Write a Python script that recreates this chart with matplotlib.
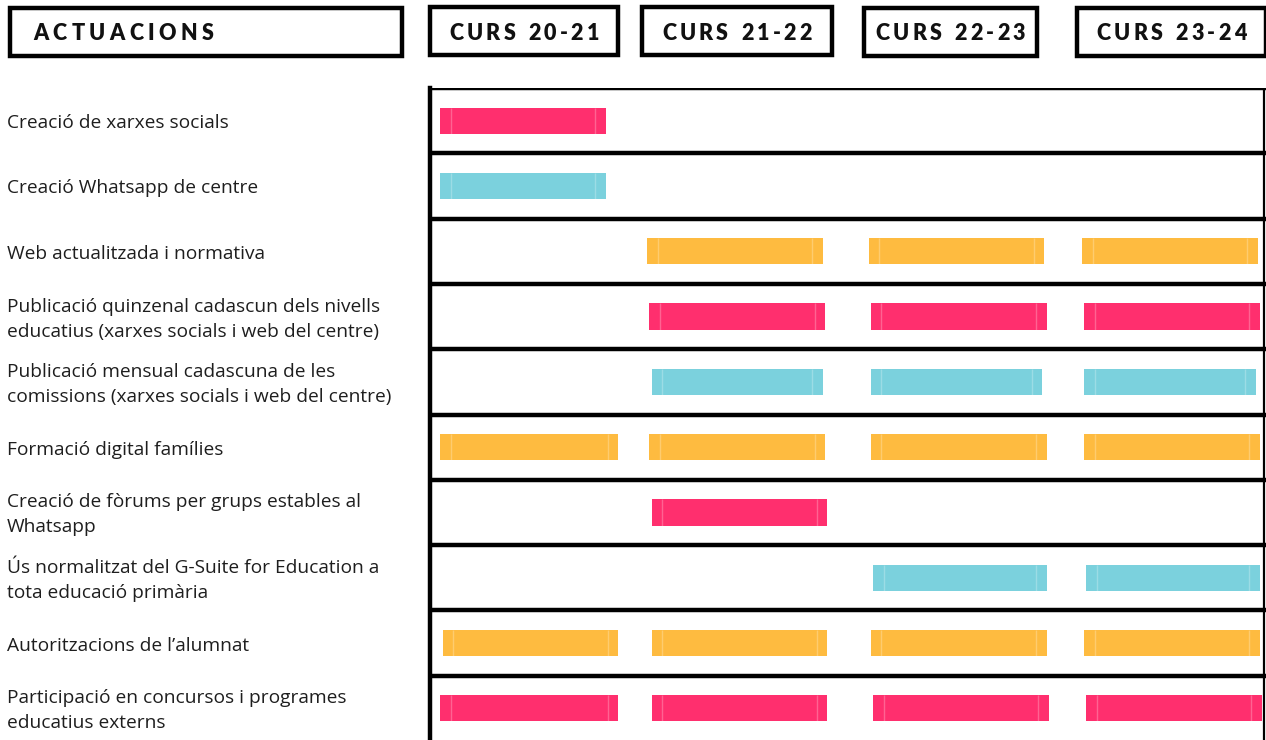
import matplotlib
matplotlib.use("Agg")
import matplotlib.pyplot as plt
from matplotlib.patches import Rectangle

# dades
cursos = ["CURS 20-21", "CURS 21-22", "CURS 22-23", "CURS 23-24"]
actuacions = [
    "Creació de xarxes socials",
    "Creació Whatsapp de centre",
    "Web actualitzada i normativa",
    "Publicació quinzenal cadascun dels nivells\neducatius (xarxes socials i web del centre)",
    "Publicació mensual cadascuna de les\ncomissions (xarxes socials i web del centre)",
    "Formació digital famílies",
    "Creació de fòrums per grups estables al\nWhatsapp",
    "Ús normalitzat del G-Suite for Education a\ntota educació primària",
    "Autoritzacions de l’alumnat",
    "Participació en concursos i programes\neducatius externs",
]
# inici / final de cada barra, en unitats de curs (0 = inici del curs 20-21)
inicis = [
    [0.05],
    [0.05],
    [1.04, 2.10, 3.12],
    [1.05, 2.11, 3.13],
    [1.06, 2.11, 3.13],
    [0.05, 1.05, 2.11, 3.13],
    [1.06],
    [2.12, 3.14],
    [0.06, 1.06, 2.11, 3.13],
    [0.05, 1.06, 2.12, 3.14],
]
finals = [
    [0.84],
    [0.84],
    [1.88, 2.94, 3.96],
    [1.89, 2.95, 3.97],
    [1.88, 2.93, 3.95],
    [0.90, 1.89, 2.95, 3.97],
    [1.90],
    [2.95, 3.97],
    [0.90, 1.90, 2.95, 3.97],
    [0.90, 1.90, 2.96, 3.98],
]
tipus = ["rosa", "blau", "groc", "rosa", "blau", "groc", "rosa", "blau", "groc", "rosa"]

colors = {"rosa": "#ff2f6e", "blau": "#7bd1dd", "groc": "#febb40"}

W, H = 1266, 740
fig = plt.figure(figsize=(W / 100, H / 100), dpi=100)
fig.patch.set_facecolor("white")
renderer = fig.canvas.get_renderer()

# capa de fons en pixels per capçaleres i etiquetes
bg = fig.add_axes([0, 0, 1, 1])
bg.set_xlim(0, W)
bg.set_ylim(H, 0)
bg.axis("off")

head_font = dict(family=["Lato", "DejaVu Sans"], weight="heavy", fontsize=15.5, color="#111111")


def tracked_text(x, y, s, align="left", tracking=3.2):
    # text amb espaiat entre lletres, lletra a lletra
    widths = []
    for ch in s:
        t = bg.text(0, 0, ch if ch != " " else "n", **head_font)
        bb = t.get_window_extent(renderer)
        widths.append(bb.width if ch != " " else bb.width * 0.55)
        t.remove()
    total = sum(widths) + tracking * (len(s) - 1)
    cx = x - total / 2 if align == "center" else x
    for ch, w in zip(s, widths):
        if ch != " ":
            bg.text(cx, y, ch, ha="left", va="center", **head_font)
        cx += w + tracking


boxes = [(10, 8, 392, 48), (430, 7, 188, 48), (642, 7, 190, 48), (864, 8, 173, 48), (1077, 8, 189, 48)]
titols = ["ACTUACIONS"] + cursos
for (x, y, w, h), t in zip(boxes, titols):
    bg.add_patch(Rectangle((x, y), w, h, fill=False, lw=3.2, ec="black"))
    if t == "ACTUACIONS":
        tracked_text(x + 23, y + h / 2 + 2, t, tracking=4.4)
    else:
        tracked_text(x + w / 2, y + h / 2 + 2, t, align="center")

# taula
top, row_h = 88, 65.3
n = len(actuacions)
ax = fig.add_axes([430 / W, 1 - (top + n * row_h) / H, (W - 430) / W, n * row_h / H])
ax.set_xlim(0, 4)
ax.set_ylim(n, 0)
ax.axis("off")

for i in range(n):
    ax.axhline(i, color="black", lw=3.2, zorder=3)
ax.axvline(0, color="black", lw=3.2, zorder=3, clip_on=False)
ax.axvline(3.99, color="black", lw=1.6, zorder=3)

for i, (a, b) in enumerate(zip(inicis, finals)):
    c = colors[tipus[i]]
    for s, e in zip(a, b):
        ax.barh(i + 0.5, e - s, left=s, height=0.4, color=c, zorder=2)
        ax.vlines([s + 0.05, e - 0.05], i + 0.3, i + 0.7, color="white", alpha=0.25, lw=1, zorder=2.5)

label_font = dict(family=["Open Sans", "DejaVu Sans"], fontsize=13.8, color="#1e1e1e")
for i, t in enumerate(actuacions):
    y = top + (i + 0.5) * row_h + 2.5
    bg.text(7, y, t, ha="left", va="center", linespacing=1.5, **label_font)

fig.savefig("out.png", dpi=100, facecolor="white")
